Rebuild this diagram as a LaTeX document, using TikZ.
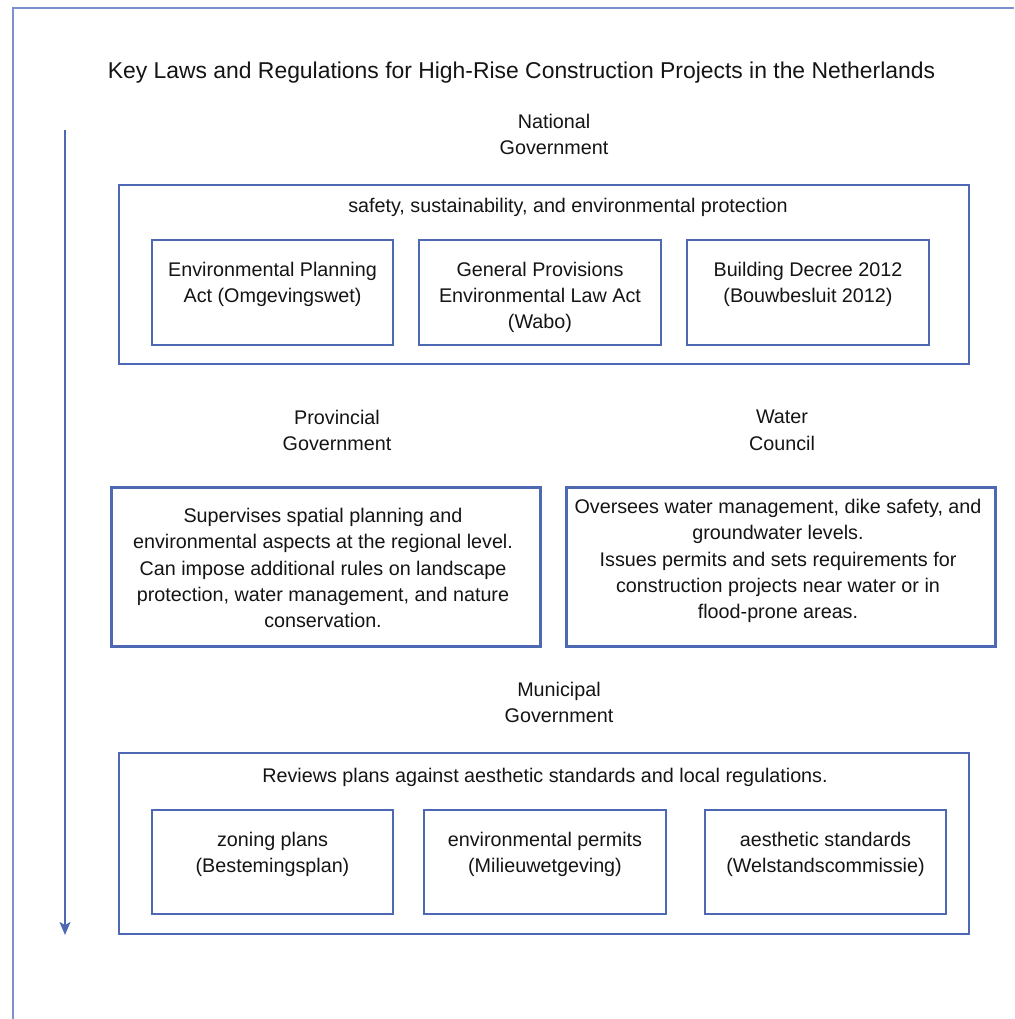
\documentclass[tikz,border=0pt]{standalone}
\usepackage{fontspec}
\setmainfont{Liberation Sans}
\usetikzlibrary{arrows.meta}
\definecolor{linkblue}{HTML}{4D69B4}
\definecolor{framebl}{HTML}{7B90CC}
\definecolor{inkc}{HTML}{141414}
\tikzset{
  every node/.style={text=inkc},
  bodyfont/.style={font=\fontsize{19.75}{26.3}\selectfont},
  txt/.style={bodyfont, align=center, inner sep=0pt, anchor=north},
  line/.style={bodyfont, inner sep=0pt, anchor=base},
  panel/.style={draw=linkblue, line width=2pt, inner sep=0pt},
  heavypanel/.style={draw=linkblue, line width=3pt, inner sep=0pt},
  framerule/.style={draw=framebl, line width=1.6pt},
  flow/.style={draw=linkblue, line width=1.6pt, -{Stealth[length=13pt,width=11pt,inset=3pt]}},
}
\begin{document}
\begin{tikzpicture}[x=1pt,y=-1pt]
\useasboundingbox (0,0) rectangle (1014,1019);

% page frame
\draw[framerule] (13,1019) -- (13,8) -- (1014,8);

% title
\node[font=\fontsize{22.9}{28}\selectfont, inner sep=0pt, anchor=base] (title) at (521.5,79)
  {Key Laws and Regulations for High-Rise Construction Projects in the Netherlands};

% hierarchy arrow
\coordinate (atop) at (65,130);
\coordinate (abot) at (65,935);
\draw[flow] (atop) -- (abot);

% ---------- national level ----------
\node[txt] (natlab) at (554,114) {National\\Government};
\node[panel, minimum width=850pt, minimum height=179pt] (nat) at (544,274.5) {};
\node[line] (natfocus) at (568,212) {safety, sustainability, and environmental protection};

\node[panel, minimum width=241pt, minimum height=105pt] (ep) at (272.5,292.5) {};
\node[txt] (ept) at ([yshift=-22.5pt]ep.north) {Environmental Planning\\Act (Omgevingswet)};
\node[panel, minimum width=242pt, minimum height=105pt] (gp) at (540,292.5) {};
\node[txt] (gpt) at ([yshift=-22.5pt]gp.north) {General Provisions\\Environmental Law Act\\(Wabo)};
\node[panel, minimum width=242pt, minimum height=105pt] (bd) at (808,292.5) {};
\node[txt] (bdt) at ([yshift=-22.5pt]bd.north) {Building Decree 2012\\(Bouwbesluit 2012)};

% ---------- provincial and water level ----------
\node[txt] (provlab) at (337,410) {Provincial\\Government};
\node[txt] (waterlab) at (782,410) {Water\\Council};

\node[heavypanel, minimum width=429pt, minimum height=159pt] (prov) at (325.5,566.5) {};
\node[txt] (provt) at (323,508) {Supervises spatial planning and\\environmental aspects at the regional level.\\Can impose additional rules on landscape\\protection, water management, and nature\\conservation.};

\node[heavypanel, minimum width=429pt, minimum height=159pt] (water) at (780.5,566.5) {};
\node[txt] (watert) at (778,499) {Oversees water management, dike safety, and\\groundwater levels.\\Issues permits and sets requirements for\\construction projects near water or in\\flood-prone areas.};

% ---------- municipal level ----------
\node[txt] (munlab) at (559,682) {Municipal\\Government};
\node[panel, minimum width=850pt, minimum height=181pt] (mun) at (544,843.5) {};
\node[line] (munfocus) at (545,782) {Reviews plans against aesthetic standards and local regulations.};

\node[panel, minimum width=241pt, minimum height=104pt] (zp) at (272.5,862) {};
\node[txt] (zpt) at ([yshift=-23pt]zp.north) {zoning plans\\(Bestemingsplan)};
\node[panel, minimum width=242pt, minimum height=104pt] (env) at (545,862) {};
\node[txt] (envt) at ([yshift=-23pt]env.north) {environmental permits\\(Milieuwetgeving)};
\node[panel, minimum width=241pt, minimum height=104pt] (aes) at (825.5,862) {};
\node[txt] (aest) at ([yshift=-23pt]aes.north) {aesthetic standards\\(Welstandscommissie)};
\end{tikzpicture}
\end{document}
